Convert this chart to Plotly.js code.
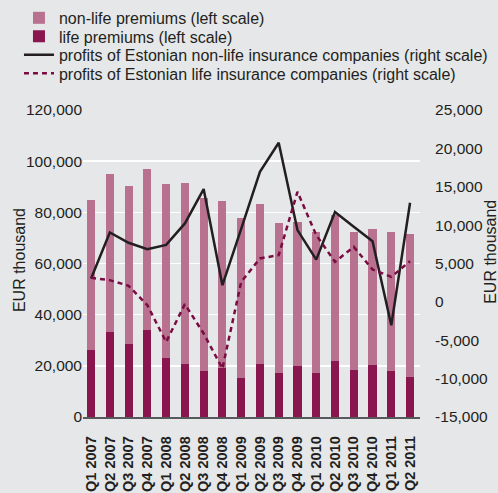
<!DOCTYPE html>
<html>
<head>
<meta charset="utf-8">
<script src="https://cdn.plot.ly/plotly-3.0.1.min.js"></script>
<style>html,body{margin:0;padding:0;background:#e6e7e8;}#chart{width:498px;height:493px;}</style>
</head>
<body>
<div id="chart"></div>
<script>
const categories = ['Q1 2007','Q2 2007','Q3 2007','Q4 2007','Q1 2008','Q2 2008','Q3 2008','Q4 2008','Q1 2009','Q2 2009','Q3 2009','Q4 2009','Q1 2010','Q2 2010','Q3 2010','Q4 2010','Q1 2011','Q2 2011'];
const lifePremiums = [26100,33150,28450,33900,23000,20600,17900,19050,15150,20600,17100,19850,17100,21800,18300,20250,17900,15550];
const nonLifePremiums = [58700,61850,61850,63050,68100,70900,67800,65350,62750,62650,58700,56350,55200,57150,54000,53200,54400,55950];
const nonLifeProfits = [3050,9050,7700,6870,7430,10220,14700,2180,9500,16950,20730,9350,5500,11700,9780,7910,-3040,12910];
const lifeProfits = [3130,2830,2100,-430,-5220,-300,-4120,-8690,2600,5660,6090,14340,8700,5220,7170,4220,3260,5300];
const leftTicks = [0,20000,40000,60000,80000,100000,120000];
const leftTickText = ['0','20,000','40,000','60,000','80,000','100,000','120,000'];
const rightTicks = [-15000,-10000,-5000,0,5000,10000,15000,20000,25000];
const rightTickText = ['-15,000','-10,000','-5,000','0','5,000','10,000','15,000','20,000','25,000'];

const FONT = 'Liberation Sans, Arial, Helvetica, sans-serif';
const TXT = '#231f20';

const data = [
  {type:'bar', x:categories, y:lifePremiums, name:'life premiums (left scale)',
   marker:{color:'#8a1650'}, legend:'legend2', hoverinfo:'skip'},
  {type:'bar', x:categories, y:nonLifePremiums, name:'non-life premiums (left scale)',
   marker:{color:'#b8728f'}, legend:'legend', hoverinfo:'skip'},
  {type:'scatter', mode:'lines', x:categories, y:nonLifeProfits, yaxis:'y2',
   name:'profits of Estonian non-life insurance companies (right scale)',
   line:{color:'#231f20', width:2.5}, legend:'legend3', hoverinfo:'skip'},
  {type:'scatter', mode:'lines', x:categories, y:lifeProfits, yaxis:'y2',
   name:'profits of Estonian life insurance companies (right scale)',
   line:{color:'#7a0b43', width:2.5, dash:'5px,4px'}, legend:'legend4', hoverinfo:'skip'}
];

function leg(y){
  return {x:-0.19, y:y, xanchor:'left', yanchor:'middle', bgcolor:'rgba(0,0,0,0)',
    font:{size:16, color:TXT, family:FONT}, itemwidth:30, borderwidth:0};
}

function axisTitle(x, y){
  return {text:'EUR thousand', xref:'paper', yref:'paper', x:x, y:y,
    xanchor:'center', yanchor:'middle', textangle:-90, showarrow:false,
    font:{size:16, color:TXT, family:FONT}};
}

const layout = {
  width:498, height:493,
  paper_bgcolor:'#e6e7e8', plot_bgcolor:'#e6e7e8',
  font:{family:FONT, color:TXT, size:15.5},
  margin:{l:83, r:78, t:110, b:76, pad:0, autoexpand:false},
  barmode:'stack', bargap:0.57,
  showlegend:true,
  legend:leg(1.300), legend2:leg(1.2397), legend3:leg(1.1797), legend4:leg(1.1193),
  xaxis:{type:'category', range:[-0.43,17.53], tickangle:-90, showgrid:false, automargin:false,
    tickmode:'linear', tick0:0, dtick:1,
    showline:true, linecolor:'#58595b', linewidth:1.5, fixedrange:true,
    ticks:'outside', ticklen:5, tickcolor:'rgba(0,0,0,0)', ticklabelstandoff:7,
    tickfont:{family:FONT, size:14.5, color:TXT, weight:'bold'}},
  yaxis:{range:[0,120000], tickvals:leftTicks, ticktext:leftTickText, showgrid:true, automargin:false,
    gridcolor:'#ffffff', gridwidth:1.5, zeroline:false, showline:false, ticks:'',
    tickfont:{size:15.5, color:TXT}},
  yaxis2:{overlaying:'y', side:'right', range:[-15000,25000], tickvals:rightTicks, ticktext:rightTickText,
    showgrid:false, zeroline:false, showline:false, automargin:false,
    ticks:'outside', ticklen:5, tickcolor:'rgba(0,0,0,0)', ticklabelstandoff:6,
    tickfont:{size:15.5, color:TXT}},
  annotations:[axisTitle(-0.19, 0.511), axisTitle(1.2107, 0.538)]
};

Plotly.newPlot('chart', data, layout, {staticPlot:true, displayModeBar:false});
</script>
</body>
</html>
